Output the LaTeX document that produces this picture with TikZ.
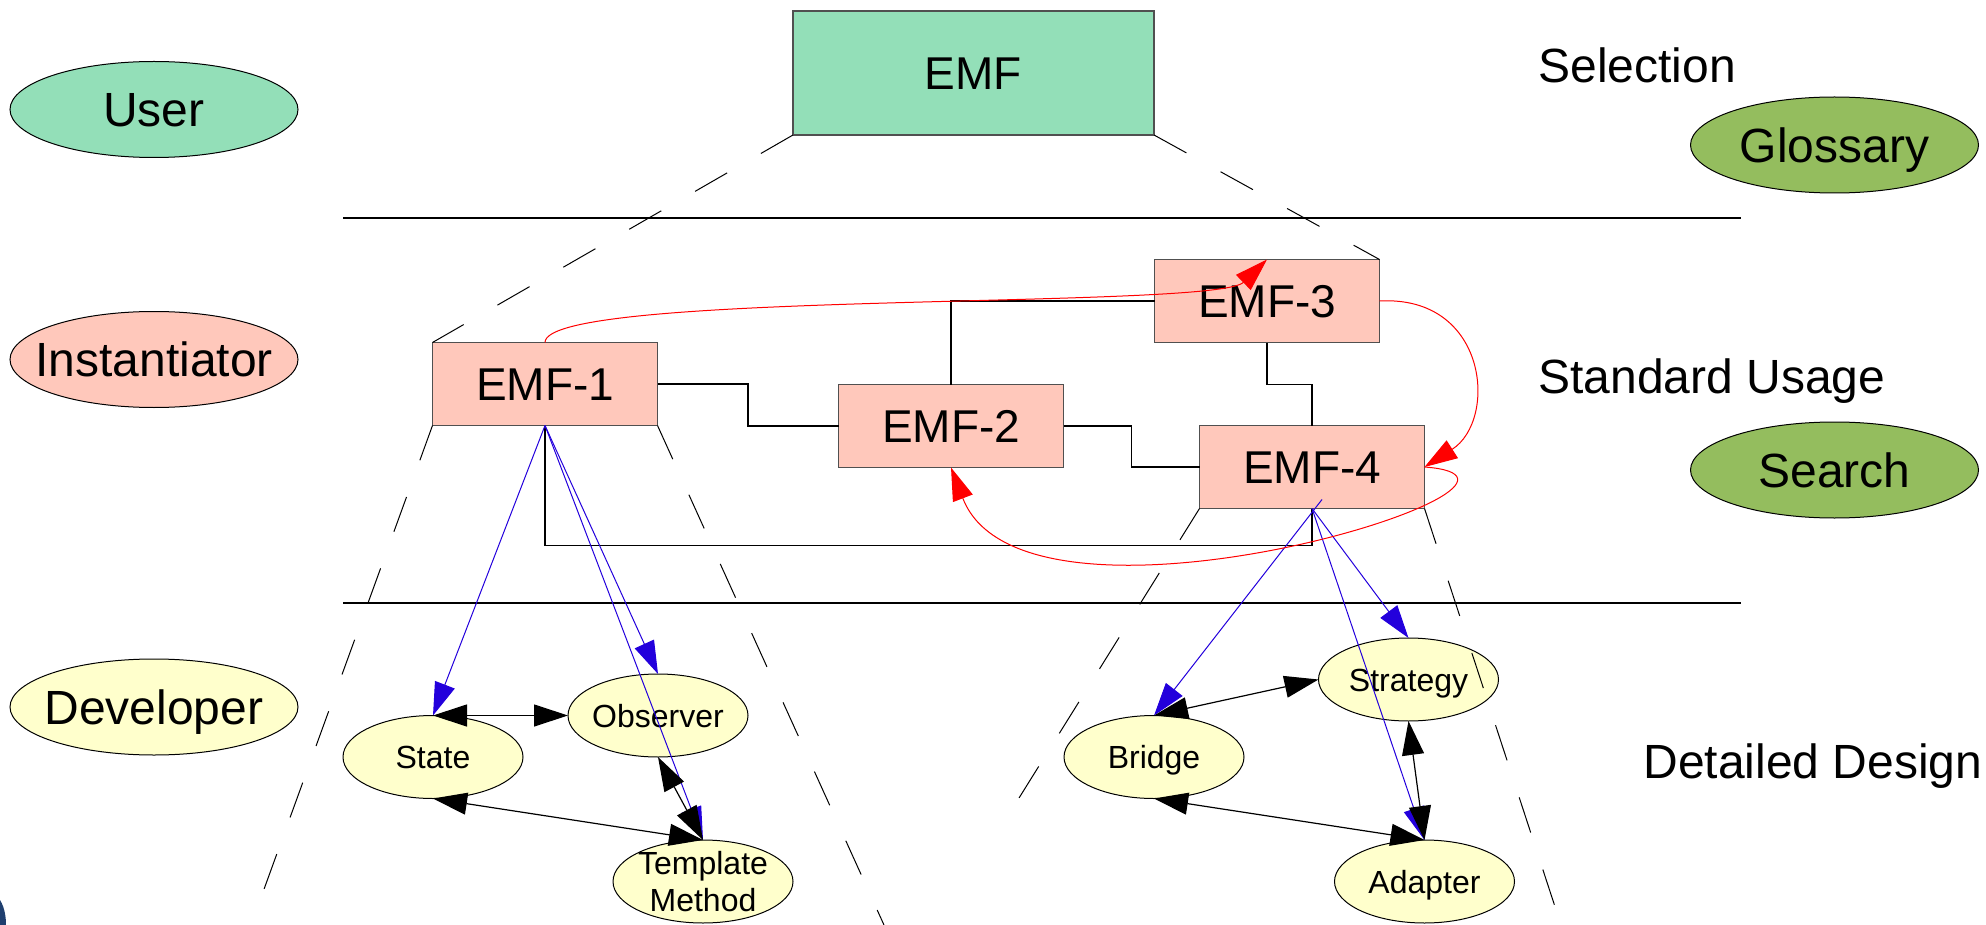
\documentclass[tikz,border=0pt]{standalone}
\usepackage{fontspec}
\setmainfont{Liberation Sans}
\usetikzlibrary{shapes.geometric,arrows.meta}
\definecolor{mintfill}{HTML}{93DFB8}
\definecolor{rosefill}{HTML}{FFC8BB}
\definecolor{leaffill}{HTML}{94BD5E}
\definecolor{creamfill}{HTML}{FFFFCC}
\definecolor{linkblue}{HTML}{2300DC}
\definecolor{edgegray}{HTML}{505050}
\definecolor{artnavy}{HTML}{1F3F6F}
\newcommand\zw[1]{\makebox[0pt]{#1}}
\begin{document}
\begin{tikzpicture}[x=0.5pt,y=-0.5pt,
  bigell/.style={ellipse,draw=black,line width=0.5pt,minimum width=144pt,minimum height=48pt,
    inner sep=0pt,outer sep=0pt,font=\fontsize{24}{28}\selectfont,text height=17.2pt,text depth=0pt},
  smallell/.style={ellipse,draw=black,line width=0.5pt,fill=creamfill,minimum width=90pt,minimum height=41.5pt,
    inner sep=0pt,outer sep=0pt,font=\fontsize{16}{18.5}\selectfont,text height=11.5pt,text depth=0pt},
  emfbox/.style={rectangle,draw=edgegray,line width=0.7pt,fill=rosefill,minimum width=112.5pt,minimum height=41.5pt,
    inner sep=0pt,outer sep=0pt,font=\fontsize{23}{27}\selectfont,text height=16.5pt,text depth=0pt},
  lvltext/.style={anchor=base west,inner sep=0pt,font=\fontsize{24}{28}\selectfont},
  sepline/.style={draw=black,line width=0.7pt},
  conn/.style={draw=black,line width=0.6pt},
  proj/.style={draw=black,line width=0.5pt,dash pattern=on 18.5pt off 19.5pt},
  bluearr/.style={draw=linkblue,line width=0.5pt,-{Triangle[length=16.5pt,width=10.5pt]}},
  redarr/.style={draw=red,line width=0.5pt,-{Triangle[length=16.5pt,width=10.5pt]}},
  dblarr/.style={draw=black,line width=0.6pt,{Triangle[length=17pt,width=11pt]}-{Triangle[length=17pt,width=11pt]}}]
\useasboundingbox (0,0) rectangle (1986,925);

% actor ellipses
\node[bigell,fill=mintfill] (user) at (154,109.5) {\zw{User}};
\node[bigell,fill=rosefill] (inst) at (154,359.5) {\zw{Instantiator}};
\node[bigell,fill=creamfill] (dev) at (154,707) {\zw{Developer}};
\node[bigell,fill=leaffill] (gloss) at (1834.5,145) {\zw{Glossary}};
\node[bigell,fill=leaffill] (search) at (1834.5,470) {\zw{Search}};

% level labels
\node[lvltext] (sel) at (1538,83) {Selection};
\node[lvltext] (std) at (1538,393) {Standard Usage};
\node[lvltext] (det) at (1643,778) {Detailed Design};

% separator lines
\coordinate (l1a) at (343,218); \coordinate (l1b) at (1741,218);
\coordinate (l2a) at (343,603); \coordinate (l2b) at (1741,603);
\draw[sepline] (l1a) -- (l1b);
\draw[sepline] (l2a) -- (l2b);

% boxes
\node[emfbox,fill=mintfill,minimum width=180.5pt,minimum height=62pt] (emf) at (973.5,73) {EMF};
\node[emfbox] (emf1) at (545,384) {EMF-1};
\node[emfbox] (emf2) at (951,426) {EMF-2};
\node[emfbox] (emf3) at (1267,301) {EMF-3};
\node[emfbox] (emf4) at (1312,467) {EMF-4};

% pattern ellipses
\node[smallell] (state) at (433,757) {\zw{State}};
\node[smallell] (obs) at (658,715.5) {\zw{Observer}};
\node[smallell] (tmpl) at (703,881.5) {};
\node[inner sep=0pt,align=center,font=\fontsize{16}{18.5}\selectfont] (tmpltxt) at (tmpl) {Template\\Method};
\node[smallell] (bridge) at (1154,757) {\zw{Bridge}};
\node[smallell] (strat) at (1408.5,679.5) {\zw{Strategy}};
\node[smallell] (adapt) at (1424.5,881.5) {\zw{Adapter}};

% box connectors
\draw[conn] (emf1.east) -- ++(90.5,0) |- (emf2.west);
\draw[conn] (emf2.east) -- ++(68,0) |- (emf4.west);
\draw[conn] (emf2.north) |- (emf3.west);
\draw[conn] (emf3.south) -- ++(0,42) -| (emf4.north);
\draw[conn] (emf1.south) -- ++(0,120) -| (emf4.south);

% projection (dashed) lines
\coordinate (p1) at (251,925);
\coordinate (p2) at (884,925);
\coordinate (p3) at (1019,798);
\coordinate (p4) at (1561,925);
\draw[proj] (emf.south west) -- (emf1.north west);
\draw[proj] (emf.south east) -- (emf3.north east);
\draw[proj] (emf1.south west) -- (p1);
\draw[proj] (emf1.south east) -- (p2);
\draw[proj] (emf4.south west) -- (p3);
\draw[proj] (emf4.south east) -- (p4);

% blue arrows
\draw[bluearr] (emf1.south) -- (state.north);
\draw[bluearr] (emf1.south) -- (obs.north);
\draw[bluearr] (emf1.south) -- (tmpl.north);
\draw[bluearr] ([shift={(10,-9)}]emf4.south) -- (bridge.north);
\draw[bluearr] (emf4.south) -- (strat.north);
\draw[bluearr] (emf4.south) -- (adapt.north);

% black double arrows
\draw[dblarr] (state.north) -- (obs.west);
\draw[dblarr] (obs.south) -- (tmpl.north);
\draw[dblarr] (state.south) -- (tmpl.north);
\draw[dblarr] (bridge.north) -- (strat.west);
\draw[dblarr] (strat.south) -- (adapt.north);
\draw[dblarr] (bridge.south) -- (adapt.north);

% red arrows
\draw[redarr] (emf1.north) .. controls (545,290) and (1215,310) .. (emf3.north);
\draw[redarr] (emf3.east) .. controls (1488,295) and (1498,420) .. (emf4.east);
\draw[redarr] (emf4.east) .. controls (1600,480) and (1025,660) .. (emf2.south);

% clipped fragment at lower left
\fill[artnavy] (0,900) .. controls (5,908) and (6,918) .. (6,925) -- (0,925) -- cycle;
\end{tikzpicture}
\end{document}
